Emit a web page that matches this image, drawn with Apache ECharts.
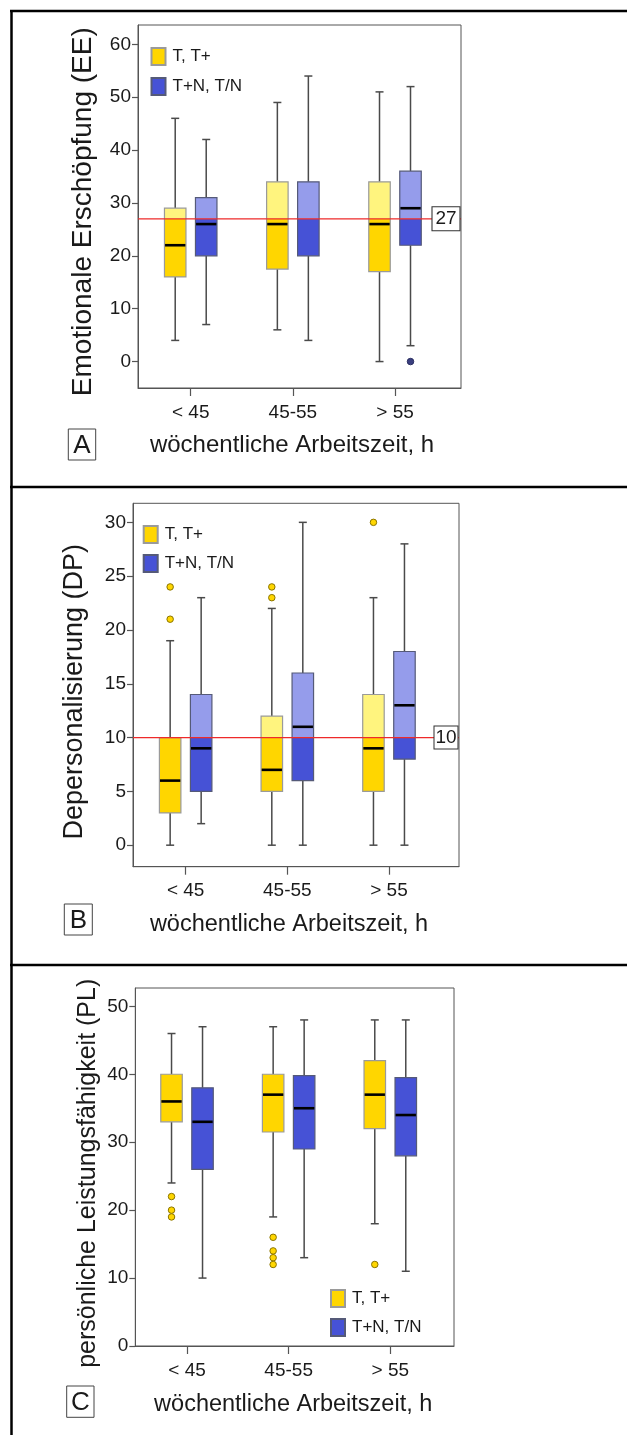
<!DOCTYPE html>
<html>
<head>
<meta charset="utf-8">
<script src="https://cdn.jsdelivr.net/npm/echarts@6/dist/echarts.min.js"></script>
<style>
html,body{margin:0;padding:0;background:#fff;}
#chart{width:627px;height:1435px;}
</style>
</head>
<body>
<div id="chart"></div>
<script>
// ---------- data ----------
const categories = ['< 45', '45-55', '> 55'];
const groupNames = ['T, T+', 'T+N, T/N'];

// each entry: [lower whisker, Q1, median, Q3, upper whisker]
const eeTT = [[4, 16, 22, 29, 46], [6, 17.5, 26, 34, 49], [0, 17, 26, 34, 51]];
const eeTN = [[7, 20, 26, 31, 42], [4, 20, 27, 34, 54], [3, 22, 29, 36, 52]];
const eeOutTT = [];
const eeOutTN = [[2, 0]]; // [category index, value]
const eeRef = 27;
const eeTicks = [0, 10, 20, 30, 40, 50, 60];

const dpTT = [[0, 3, 6, 10, 19], [0, 5, 7, 12, 22], [0, 5, 9, 14, 23]];
const dpTN = [[2, 5, 9, 14, 23], [0, 6, 11, 16, 30], [0, 8, 13, 18, 28]];
const dpOutTT = [[0, 24], [0, 21], [1, 24], [1, 23], [2, 30]];
const dpOutTN = [];
const dpRef = 10;
const dpTicks = [0, 5, 10, 15, 20, 25, 30];

const plTT = [[24, 33, 36, 40, 46], [19, 31.5, 37, 40, 47], [18, 32, 37, 42, 48]];
const plTN = [[10, 26, 33, 38, 47], [13, 29, 35, 39.8, 48], [11, 28, 34, 39.5, 48]];
const plOutTT = [[0, 22], [0, 20], [0, 19], [1, 16], [1, 14], [1, 13], [1, 12], [2, 12]];
const plOutTN = [];
const plTicks = [0, 10, 20, 30, 40, 50];

// ---------- styling / layout ----------
const FONT = '"Liberation Sans", Arial, sans-serif';
const TXT = '#1a1a1a';
const YEL = '#FFD600', YEL_L = '#FFF47E', YEL_B = '#9a9a9a';
const BLU = '#4652D6', BLU_L = '#959CEB', BLU_B = '#555a78';
const boxW = 21.5, capW = 8, dodge = 15.5;

const panels = [
  { tt: eeTT, tn: eeTN, outTT: eeOutTT, outTN: eeOutTN, ref: eeRef, ticks: eeTicks,
    grid: { left: 138, top: 25, width: 323, height: 363 }, y: [-5, 63.65], x: [0.484, 3.646],
    legend: { left: 150.5, top: 47, itemGap: 11 }, refBox: [28, 24] },
  { tt: dpTT, tn: dpTN, outTT: dpOutTT, outTN: dpOutTN, ref: dpRef, ticks: dpTicks,
    grid: { left: 133, top: 503.3, width: 326, height: 363.4 }, y: [-2, 31.77], x: [0.482, 3.689],
    legend: { left: 142.7, top: 525, itemGap: 10 }, refBox: [24, 23] },
  { tt: plTT, tn: plTN, outTT: plOutTT, outTN: plOutTN, ref: null, ticks: plTicks,
    grid: { left: 135.3, top: 988, width: 318.7, height: 358 }, y: [0, 52.7], x: [0.491, 3.627],
    legend: { left: 330, top: 1289, itemGap: 10 }, refBox: null }
];

function boxRender(dx, fill, fillLight, stroke, thr) {
  return function (params, api) {
    const x = api.value(0);
    const v = [1, 2, 3, 4, 5].map(k => api.value(k));
    const cx = api.coord([x, v[0]])[0] + dx;
    const Y = val => api.coord([x, val])[1];
    const yl = Y(v[0]), yq1 = Y(v[1]), ym = Y(v[2]), yq3 = Y(v[3]), yh = Y(v[4]);
    const L = cx - boxW / 2;
    const ws = { stroke: '#4a4a4a', lineWidth: 1.5 };
    const ch = [
      { type: 'line', shape: { x1: cx, y1: yq3, x2: cx, y2: yh }, style: ws },
      { type: 'line', shape: { x1: cx, y1: yq1, x2: cx, y2: yl }, style: ws },
      { type: 'line', shape: { x1: cx - capW / 2, y1: yh, x2: cx + capW / 2, y2: yh }, style: ws },
      { type: 'line', shape: { x1: cx - capW / 2, y1: yl, x2: cx + capW / 2, y2: yl }, style: ws }
    ];
    if (thr != null && thr > v[1] && thr < v[3]) {
      const yt = Y(thr);
      ch.push({ type: 'rect', shape: { x: L, y: yq3, width: boxW, height: yt - yq3 }, style: { fill: fillLight } });
      ch.push({ type: 'rect', shape: { x: L, y: yt, width: boxW, height: yq1 - yt }, style: { fill: fill } });
    } else {
      const f = (thr != null && v[1] >= thr) ? fillLight : fill;
      ch.push({ type: 'rect', shape: { x: L, y: yq3, width: boxW, height: yq1 - yq3 }, style: { fill: f } });
    }
    ch.push({ type: 'rect', shape: { x: L, y: yq3, width: boxW, height: yq1 - yq3 }, style: { fill: 'none', stroke: stroke, lineWidth: 1.2 } });
    // a median lying exactly on the reference line is hidden by it in the original
    if (!(thr != null && v[2] === thr)) {
      ch.push({ type: 'line', shape: { x1: L + 0.6, y1: ym, x2: L + boxW - 0.6, y2: ym }, style: { stroke: '#000', lineWidth: 2.6 } });
    }
    return { type: 'group', children: ch };
  };
}

const grids = [], xAxes = [], yAxes = [], series = [], legends = [];
panels.forEach((p, i) => {
  grids.push(Object.assign({ show: true, borderColor: '#555', borderWidth: 1, backgroundColor: '#fff', containLabel: false }, p.grid));
  xAxes.push({
    gridIndex: i, type: 'value', min: p.x[0], max: p.x[1],
    axisLine: { show: true, onZero: false, lineStyle: { color: '#555', width: 1 } },
    axisTick: { show: true, customValues: [1, 2, 3], length: 8, inside: false, lineStyle: { color: '#555', width: 1.2 } },
    axisLabel: { show: true, customValues: [1, 2, 3], formatter: v => categories[Math.round(v) - 1] || '', margin: 15, fontSize: 19, fontFamily: FONT, color: TXT },
    splitLine: { show: false }
  });
  yAxes.push({
    gridIndex: i, type: 'value', min: p.y[0], max: p.y[1],
    axisLine: { show: true, onZero: false, lineStyle: { color: '#555', width: 1 } },
    axisTick: { show: true, customValues: p.ticks, length: 6, inside: false, lineStyle: { color: '#555', width: 1.2 } },
    axisLabel: { show: true, customValues: p.ticks, margin: 7, fontSize: 19, fontFamily: FONT, color: TXT },
    splitLine: { show: false }
  });
  const toBox = arr => arr.map((d, k) => [k + 1].concat(d));
  const toOut = arr => arr.map(d => [d[0] + 1, d[1]]);
  series.push({
    type: 'custom', name: groupNames[0], xAxisIndex: i, yAxisIndex: i, z: 2,
    itemStyle: { color: YEL, borderColor: YEL_B, borderWidth: 1 },
    encode: { x: 0, y: [1, 2, 3, 4, 5] },
    data: toBox(p.tt), renderItem: boxRender(-dodge, YEL, YEL_L, YEL_B, p.ref)
  });
  series.push({
    type: 'custom', name: groupNames[1], xAxisIndex: i, yAxisIndex: i, z: 2,
    itemStyle: { color: BLU, borderColor: BLU_B, borderWidth: 1 },
    encode: { x: 0, y: [1, 2, 3, 4, 5] },
    data: toBox(p.tn), renderItem: boxRender(dodge, BLU, BLU_L, BLU_B, p.ref)
  });
  series.push({
    type: 'scatter', name: 'Ausreißer ' + groupNames[0], xAxisIndex: i, yAxisIndex: i, z: 4,
    symbol: 'circle', symbolSize: 6.5, symbolOffset: [-dodge, 0],
    itemStyle: { color: YEL, borderColor: '#8a7400', borderWidth: 1, opacity: 1 },
    data: toOut(p.outTT)
  });
  series.push({
    type: 'scatter', name: 'Ausreißer ' + groupNames[1], xAxisIndex: i, yAxisIndex: i, z: 4,
    symbol: 'circle', symbolSize: 6.5, symbolOffset: [dodge, 0],
    itemStyle: { color: '#3a3f80', borderColor: '#2a2e60', borderWidth: 1, opacity: 1 },
    data: toOut(p.outTN)
  });
  if (p.ref != null) {
    series.push({
      type: 'line', name: 'Referenz ' + i, xAxisIndex: i, yAxisIndex: i, z: 5,
      symbol: 'none', silent: true,
      lineStyle: { color: '#ee2a2a', width: 1.3 },
      data: [[p.x[0], p.ref], [p.x[1], p.ref]],
      markPoint: {
        z: 10, symbol: 'rect', symbolSize: p.refBox, symbolOffset: [-p.refBox[0] / 2 - 1, 0],
        itemStyle: { color: '#fff', borderColor: '#333', borderWidth: 1 },
        label: { show: true, position: 'inside', formatter: String(p.ref), fontSize: 19, fontFamily: FONT, color: TXT },
        data: [{ coord: [p.x[1], p.ref] }]
      }
    });
  }
  legends.push({
    left: p.legend.left, top: p.legend.top, orient: 'vertical', padding: 0,
    itemWidth: 14, itemHeight: 17, itemGap: p.legend.itemGap, selectedMode: false,
    textStyle: { fontSize: 17, fontFamily: FONT, color: TXT, padding: [0, 0, 0, 2] },
    data: [{ name: groupNames[0], icon: 'rect' }, { name: groupNames[1], icon: 'rect' }]
  });
});

const yTitles = ['Emotionale Erschöpfung (EE)', 'Depersonalisierung (DP)', 'persönliche Leistungsfähigkeit (PL)'];
const xTitle = 'wöchentliche Arbeitszeit, h';
const letters = ['A', 'B', 'C'];

function txt(x, y, s, size, rot) {
  return {
    type: 'text', x: x, y: y, rotation: rot || 0, z: 20,
    style: { text: s, font: size + 'px ' + FONT, fill: TXT, align: 'center', verticalAlign: 'middle' }
  };
}
function hline(y, x1, x2) {
  return { type: 'line', z: 30, shape: { x1: x1, y1: y, x2: x2, y2: y }, style: { stroke: '#000', lineWidth: 2.5 } };
}
function letterBox(x, y, w, h, s) {
  return [
    { type: 'rect', z: 20, shape: { x: x, y: y, width: w, height: h }, style: { fill: '#fff', stroke: '#444', lineWidth: 1 } },
    txt(x + w / 2, y + h / 2 + 1, s, 26)
  ];
}

const graphics = [
  { type: 'line', z: 30, shape: { x1: 11.5, y1: 10, x2: 11.5, y2: 1435 }, style: { stroke: '#000', lineWidth: 2.5 } },
  hline(11, 10, 627), hline(487, 10, 627), hline(965, 10, 627),
  txt(83.3, 211.7, yTitles[0], 28, Math.PI / 2),
  txt(74.3, 691.7, yTitles[1], 27, Math.PI / 2),
  txt(88.3, 1173.3, yTitles[2], 25, Math.PI / 2),
  txt(292, 445, xTitle, 24),
  txt(289, 925, xTitle, 23.5),
  txt(293.2, 1405, xTitle, 23.5)
].concat(letterBox(68.3, 429, 27.4, 31, letters[0]))
 .concat(letterBox(64.3, 904, 28, 31, letters[1]))
 .concat(letterBox(66.7, 1386, 27.3, 31.3, letters[2]));

const chart = echarts.init(document.getElementById('chart'), null, { renderer: 'canvas' });
chart.setOption({
  animation: false,
  backgroundColor: '#fff',
  textStyle: { fontFamily: FONT },
  grid: grids, xAxis: xAxes, yAxis: yAxes,
  legend: legends,
  series: series,
  graphic: graphics
});
</script>
</body>
</html>
